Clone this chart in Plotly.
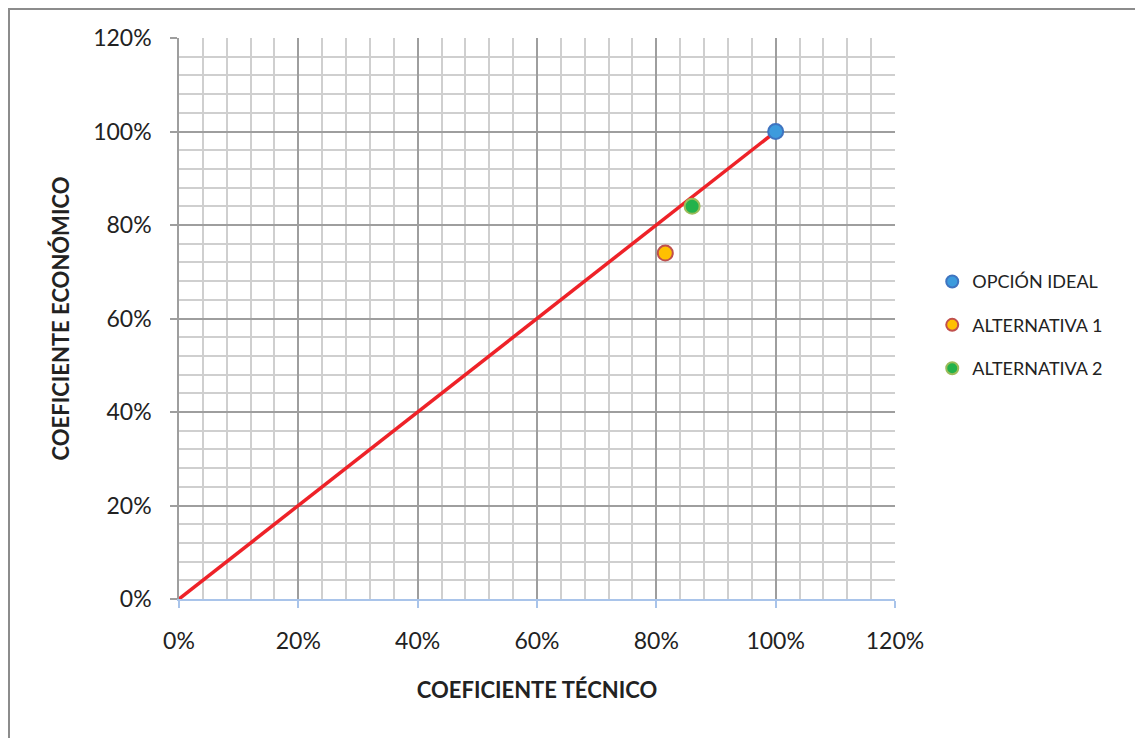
import plotly.graph_objects as go

# Data
series_names = ["OPCIÓN IDEAL", "ALTERNATIVA 1", "ALTERNATIVA 2"]
coef_tecnico = [1.00, 0.815, 0.86]
coef_economico = [1.00, 0.74, 0.84]
fill_colors = ["#3C9BDD", "#FFC000", "#23B24B"]
edge_colors = ["#3F74C0", "#C0504D", "#9BBB59"]
line_x = [0.0, 1.0]
line_y = [0.0, 1.0]
tick_vals = [0, 0.2, 0.4, 0.6, 0.8, 1.0, 1.2]
tick_text = ["0%", "20%", "40%", "60%", "80%", "100%", "120%"]

FONT = "Lato, Carlito, 'Open Sans', sans-serif"

fig = go.Figure()
fig.add_trace(go.Scatter(x=line_x, y=line_y, mode="lines",
                         line=dict(color="#EE2228", width=3.5),
                         showlegend=False, hoverinfo="skip"))
for name, x, y, fc, ec in zip(series_names, coef_tecnico, coef_economico, fill_colors, edge_colors):
    fig.add_trace(go.Scatter(x=[x], y=[y], mode="markers", name=name, legendgroup=name,
                             marker=dict(size=15, color=fc, line=dict(color=ec, width=2))))

minor = dict(dtick=0.04, showgrid=True, gridcolor="#CFCFCF", gridwidth=1.5, ticks="")
fig.update_xaxes(range=[0, 1.2], tickvals=tick_vals, ticktext=tick_text,
                 showgrid=True, gridcolor="#9E9E9E", gridwidth=1.5,
                 minor=minor, showline=True, linecolor="#A9C4EA", linewidth=2,
                 ticks="outside", ticklen=7, tickcolor="#A9C4EA", tickwidth=2,
                 ticklabelstandoff=13, zeroline=False,
                 tickfont=dict(family=FONT, size=23, color="#222"),
                 title=dict(text="<b>COEFICIENTE TÉCNICO</b>", standoff=30,
                            font=dict(family=FONT, size=22, color="#222")))
fig.update_yaxes(range=[0, 1.2], tickvals=tick_vals, ticktext=tick_text,
                 showgrid=True, gridcolor="#9E9E9E", gridwidth=1.5,
                 minor=minor, showline=True, linecolor="#9E9E9E", linewidth=1.5,
                 ticks="outside", ticklen=7, tickcolor="#9E9E9E", tickwidth=1.5,
                 ticklabelstandoff=14, zeroline=False,
                 tickfont=dict(family=FONT, size=23, color="#222"),
                 title=dict(text="<b>COEFICIENTE ECONÓMICO</b>", standoff=17,
                            font=dict(family=FONT, size=22, color="#222")))

fig.update_layout(
    width=1135, height=730,
    margin=dict(l=171, r=248, t=30, b=139),
    paper_bgcolor="white", plot_bgcolor="white",
    legend=dict(x=1.052, y=0.488, xanchor="left", yanchor="middle",
                font=dict(family=FONT, size=18, color="#222"),
                tracegroupgap=17, itemsizing="constant"),
    shapes=[dict(type="rect", xref="paper", yref="paper",
                 x0=(1 - 171) / 716, x1=1.6, y0=-0.5, y1=(561 + 29) / 561,
                 line=dict(color="#8C8C8C", width=2), layer="below")],
)

fig.write_html("out.html")
